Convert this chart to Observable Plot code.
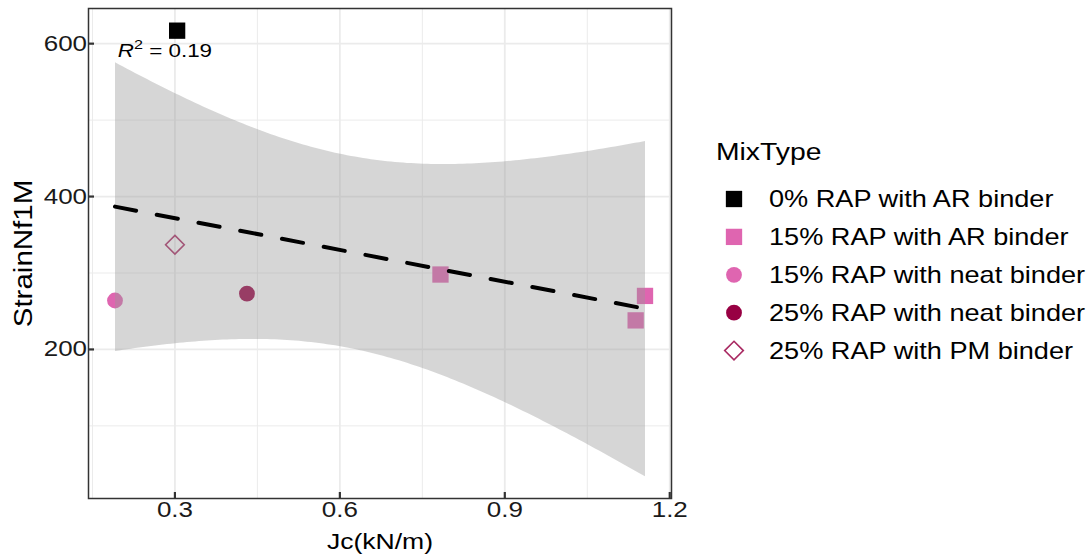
<!DOCTYPE html>
<html>
<head>
<meta charset="utf-8">
<script src="https://cdn.jsdelivr.net/npm/d3@7"></script>
<script src="https://cdn.jsdelivr.net/npm/@observablehq/plot@0.6"></script>
<style>
  html, body { margin: 0; padding: 0; background: #fff; }
  #wrap { position: relative; width: 1087px; height: 557px; overflow: hidden; font-family: "Liberation Sans", Arial, sans-serif; }
  #wrap svg { display: block; }
</style>
</head>
<body>
<div id="wrap"></div>
<script>
// ---- data ----
const mixTypes = [
  "0% RAP with AR binder",
  "15% RAP with AR binder",
  "15% RAP with neat binder",
  "25% RAP with neat binder",
  "25% RAP with PM binder"
];
const pointMix = [
  "0% RAP with AR binder",
  "15% RAP with AR binder",
  "15% RAP with AR binder",
  "15% RAP with AR binder",
  "15% RAP with neat binder",
  "25% RAP with neat binder",
  "25% RAP with PM binder"
];
const jc = [0.304, 0.783, 1.138, 1.155, 0.191, 0.431, 0.300];
const strainNf1M = [617, 298, 238, 270, 264, 273, 337];
const xTicks = [0.3, 0.6, 0.9, 1.2];
const xMinorTicks = [0.15, 0.45, 0.75, 1.05];
const yTicks = [200, 400, 600];
const yMinorTicks = [100, 300, 500];
const yDomain = [5, 646];
const xTitle = "Jc(kN/m)";
const yTitle = "StrainNf1M";
const legendTitle = "MixType";
const r2Label = ["R² = 0.19"];
const r2X = [0.196];
const r2Y = [591];

// ---- styles per category ----
const typeColor = ["#000000", "#DF65B0", "#DF65B0", "#980043", "#A92A62"];
const typeSymbol = ["square", "square", "circle", "circle", "diamond2"];
const typeFilled = [true, true, true, true, false];
const typeR = [9.2, 9.2, 7.9, 7.9, 8.4];
const SX = 1.18; // horizontal text stretch

const rows = jc.map((x, i) => ({x, y: strainNf1M[i], mix: pointMix[i]}));
const ext = d3.extent(jc);
const pad = (ext[1] - ext[0]) * 0.05;
const xDomain = [ext[0] - pad, ext[1] + pad];

const pointMarks = mixTypes.map((m, t) => Plot.dot(rows.filter(d => d.mix === m), {
  x: "x", y: "y",
  symbol: typeSymbol[t],
  r: typeR[t],
  fill: typeFilled[t] ? typeColor[t] : "none",
  stroke: typeFilled[t] ? "none" : typeColor[t],
  strokeWidth: typeFilled[t] ? 0 : 1.6
}));

const chart = Plot.plot({
  width: 1087,
  height: 557,
  marginLeft: 88,
  marginRight: 416,
  marginTop: 8,
  marginBottom: 59,
  style: {fontFamily: '"Liberation Sans", Arial, sans-serif', fontSize: "22px", background: "#fff", color: "#1a1a1a"},
  x: {domain: xDomain},
  y: {domain: yDomain},
  marks: [
    Plot.gridX(xMinorTicks, {stroke: "#ebebeb", strokeOpacity: 1, strokeWidth: 1}),
    Plot.gridY(yMinorTicks, {stroke: "#ebebeb", strokeOpacity: 1, strokeWidth: 1}),
    Plot.gridX(xTicks, {stroke: "#ebebeb", strokeOpacity: 1, strokeWidth: 1.8}),
    Plot.gridY(yTicks, {stroke: "#ebebeb", strokeOpacity: 1, strokeWidth: 1.8}),
    ...pointMarks,
    Plot.linearRegressionY(rows, {
      x: "x", y: "y", ci: 0.95,
      stroke: "#000", strokeWidth: 4, strokeDasharray: "21.5,21",
      fill: "#999999", fillOpacity: 0.4
    }),
    Plot.text(r2Label, {x: r2X, y: r2Y, text: d => d, textAnchor: "start", lineAnchor: "middle", fontSize: 19, fill: "#000"}),
    Plot.frame({stroke: "#333", strokeWidth: 1.5}),
    Plot.axisX(xTicks, {tickSize: 6, dy: -6, tickPadding: 3, tickFormat: d3.format(".1f"), label: null, fontSize: 22, stroke: "#333", strokeWidth: 2.2, fill: "#1a1a1a"}),
    Plot.axisY(yTicks, {tickSize: 6, dx: 6, tickPadding: 1.5, tickFormat: d3.format("d"), label: null, fontSize: 22, stroke: "#333", strokeWidth: 2.2, fill: "#1a1a1a"}),
    Plot.text([xTitle], {frameAnchor: "bottom", dy: 43, text: d => d, textAnchor: "middle", lineAnchor: "middle", fontSize: 22.5, fill: "#000"}),
    Plot.text([yTitle], {frameAnchor: "left", dx: -65, rotate: -90, text: d => d, textAnchor: "middle", lineAnchor: "middle", fontSize: 25, fill: "#000"})
  ]
});

// stretch text horizontally to match reference glyph widths
chart.querySelectorAll("text").forEach(t => {
  const tr = t.getAttribute("transform") || "";
  t.setAttribute("transform", (tr + ` scale(${SX},1)`).trim());
});

// R² label with italic R and superscript 2
const NS = "http://www.w3.org/2000/svg";
chart.querySelectorAll("text").forEach(t => {
  if (t.textContent === r2Label[0]) {
    const parts = r2Label[0].split("²");
    while (t.firstChild) t.removeChild(t.firstChild);
    const a = document.createElementNS(NS, "tspan");
    a.setAttribute("font-style", "italic");
    a.textContent = parts[0];
    const b = document.createElementNS(NS, "tspan");
    b.setAttribute("dy", "-0.55em");
    b.setAttribute("font-size", "0.72em");
    b.textContent = "2";
    const c = document.createElementNS(NS, "tspan");
    c.setAttribute("dy", "0.4em");
    c.textContent = parts[1];
    t.append(a, b, c);
  }
});

const wrap = document.getElementById("wrap");
wrap.appendChild(chart);

// ---- legend (right side) ----
const symbolMap = {square: d3.symbolSquare, circle: d3.symbolCircle, diamond2: d3.symbolDiamond2};
const leg = d3.create("svg")
  .attr("width", 397).attr("height", 260)
  .style("position", "absolute").style("left", "690px").style("top", "120px")
  .style("font-family", '"Liberation Sans", Arial, sans-serif');
leg.append("text")
  .attr("transform", `translate(26,39.5) scale(${SX},1)`)
  .attr("font-size", 24).attr("fill", "#000")
  .text(legendTitle);
mixTypes.forEach((m, i) => {
  const cy = 79 + i * 37.9;
  const r = typeR[i];
  leg.append("path")
    .attr("d", d3.symbol(symbolMap[typeSymbol[i]], Math.PI * r * r)())
    .attr("transform", `translate(44,${cy})`)
    .attr("fill", typeFilled[i] ? typeColor[i] : "none")
    .attr("stroke", typeFilled[i] ? "none" : typeColor[i])
    .attr("stroke-width", typeFilled[i] ? 0 : 1.6);
  leg.append("text")
    .attr("transform", `translate(79,${cy + 8.2}) scale(${SX},1)`)
    .attr("font-size", 23).attr("fill", "#000")
    .text(m);
});
wrap.appendChild(leg.node());
</script>
</body>
</html>
